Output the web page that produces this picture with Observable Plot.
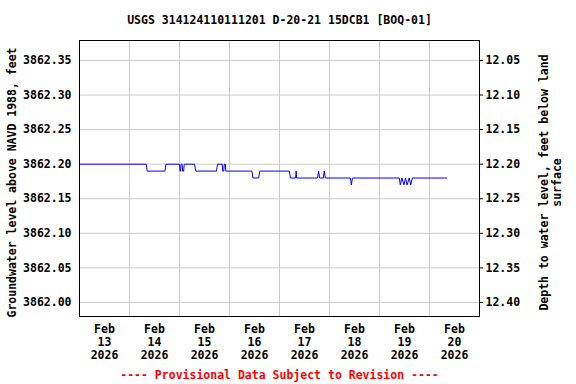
<!DOCTYPE html>
<html>
<head>
<meta charset="utf-8">
<script src="https://cdn.jsdelivr.net/npm/d3@7"></script>
<script src="https://cdn.jsdelivr.net/npm/@observablehq/plot@0.6"></script>
<style>
  html, body { margin: 0; padding: 0; background: white; }
</style>
</head>
<body>
<div id="chart"></div>
<script>
const titleText = "USGS 314124110111201 D-20-21 15DCB1 [BOQ-01]";
const captionText = "---- Provisional Data Subject to Revision ----";
const leftLabel = "Groundwater level above NAVD 1988, feet";
const rightLabel = "Depth to water level, feet below land\nsurface";
const landSurface = 3874.40;

const times = [
  "2026-02-13T00:00", "2026-02-14T08:00", "2026-02-14T08:30", "2026-02-14T17:00", "2026-02-14T17:30",
  "2026-02-15T00:00", "2026-02-15T00:15", "2026-02-15T00:30", "2026-02-15T00:45", "2026-02-15T01:15",
  "2026-02-15T01:30", "2026-02-15T02:00", "2026-02-15T02:15", "2026-02-15T07:15", "2026-02-15T07:45",
  "2026-02-15T17:45", "2026-02-15T18:15", "2026-02-15T20:30", "2026-02-15T20:45", "2026-02-15T21:15",
  "2026-02-15T21:30", "2026-02-15T22:00", "2026-02-15T22:15", "2026-02-16T10:45", "2026-02-16T11:15",
  "2026-02-16T14:00", "2026-02-16T14:30", "2026-02-17T04:45", "2026-02-17T05:15", "2026-02-17T07:45",
  "2026-02-17T08:00", "2026-02-17T08:15", "2026-02-17T18:15", "2026-02-17T18:45", "2026-02-17T19:15",
  "2026-02-17T21:00", "2026-02-17T21:30", "2026-02-17T22:00", "2026-02-18T10:00", "2026-02-18T10:30",
  "2026-02-18T11:00", "2026-02-19T09:30", "2026-02-19T10:00", "2026-02-19T10:45", "2026-02-19T11:45",
  "2026-02-19T12:30", "2026-02-19T13:15", "2026-02-19T14:15", "2026-02-19T15:00", "2026-02-19T15:45",
  "2026-02-20T08:15"
];
const levels = [
  3862.20, 3862.20, 3862.19, 3862.19, 3862.20,
  3862.20, 3862.19, 3862.19, 3862.20, 3862.20,
  3862.19, 3862.19, 3862.20, 3862.20, 3862.19,
  3862.19, 3862.20, 3862.20, 3862.19, 3862.19,
  3862.20, 3862.20, 3862.19, 3862.19, 3862.18,
  3862.18, 3862.19, 3862.19, 3862.18, 3862.18,
  3862.19, 3862.18, 3862.18, 3862.19, 3862.18,
  3862.18, 3862.19, 3862.18, 3862.18, 3862.17,
  3862.18, 3862.18, 3862.17, 3862.18, 3862.17,
  3862.18, 3862.17, 3862.18, 3862.17, 3862.18,
  3862.18
];

const yTicks = [3862.00, 3862.05, 3862.10, 3862.15, 3862.20, 3862.25, 3862.30, 3862.35];
const dayBounds = ["2026-02-14", "2026-02-15", "2026-02-16", "2026-02-17", "2026-02-18", "2026-02-19", "2026-02-20"];
const dayTicks = ["2026-02-13T12:00", "2026-02-14T12:00", "2026-02-15T12:00", "2026-02-16T12:00",
                  "2026-02-17T12:00", "2026-02-18T12:00", "2026-02-19T12:00", "2026-02-20T12:00"];
const xDomain = ["2026-02-13T00:00", "2026-02-21T00:00"];
const yDomain = [3861.9797, 3862.3789];

const utc = s => new Date(s.length === 10 ? s + "T00:00Z" : s + "Z");
const data = times.map((t, i) => ({time: utc(t), level: levels[i]}));

const chart = Plot.plot({
  width: 576,
  height: 384,
  marginLeft: 79,
  marginRight: 97,
  marginTop: 40,
  marginBottom: 68,
  style: {fontFamily: "'DejaVu Sans Mono', monospace", fontWeight: "bold", fontSize: "11.5px", background: "white", color: "black", overflow: "visible"},
  x: {type: "utc", domain: xDomain.map(utc)},
  y: {domain: yDomain},
  marks: [
    Plot.gridX(dayBounds.map(utc), {stroke: "#cccccc", strokeOpacity: 1, strokeWidth: 1}),
    Plot.gridY(yTicks, {stroke: "#cccccc", strokeOpacity: 1, strokeWidth: 1}),
    Plot.line(data, {x: "time", y: "level", stroke: "#0000ff", strokeWidth: 1}),
    Plot.frame({stroke: "black", strokeWidth: 1}),
    Plot.axisY(yTicks, {anchor: "left", tickSize: 0, tickPadding: 8, tickFormat: d => d.toFixed(2), label: null}),
    Plot.axisY(yTicks, {anchor: "right", tickSize: 3, tickPadding: 3, tickFormat: d => (landSurface - d).toFixed(2), label: null}),
    Plot.axisX(dayTicks.map(utc), {anchor: "bottom", tickSize: 0, tickPadding: 8, tickFormat: d3.utcFormat("%b\n%-d\n%Y"), label: null, lineHeight: 1.1}),
    Plot.text([titleText], {frameAnchor: "top", dy: -20, lineAnchor: "middle", fontSize: 11.5, fontWeight: "bold"}),
    Plot.text([captionText], {frameAnchor: "bottom", dy: 59, lineAnchor: "middle", fontSize: 11.5, fontWeight: "bold", fill: "#ff0000"}),
    Plot.text([leftLabel], {frameAnchor: "left", textAnchor: "middle", dx: -67, dy: 4, rotate: -90, lineAnchor: "middle", fontSize: 11.5, fontWeight: "bold"}),
    Plot.text([rightLabel], {frameAnchor: "right", textAnchor: "middle", dx: 71, dy: 4, rotate: -90, lineAnchor: "middle", fontSize: 11.5, fontWeight: "bold", lineHeight: 1.1})
  ]
});
document.getElementById("chart").appendChild(chart);
</script>
</body>
</html>
